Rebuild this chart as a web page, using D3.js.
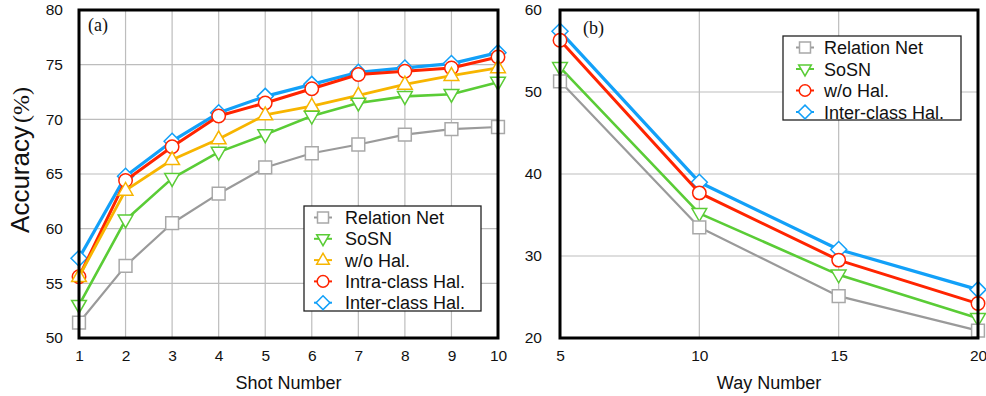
<!DOCTYPE html>
<html>
<head>
<meta charset="utf-8">
<script src="https://cdn.jsdelivr.net/npm/d3@7"></script>
<style>
  body { margin: 0; background: #fff; }
  svg { display: block; font-family: "Liberation Sans", Arial, Helvetica, sans-serif; }
</style>
</head>
<body>
<div id="chart"></div>
<script>
// panel (a): accuracy vs shot number
const shots = [1, 2, 3, 4, 5, 6, 7, 8, 9, 10];
const shotRelationNet = [51.4, 56.6, 60.5, 63.2, 65.6, 66.9, 67.7, 68.6, 69.1, 69.3];
const shotSoSN = [53.0, 60.8, 64.6, 67.0, 68.6, 70.3, 71.5, 72.1, 72.3, 73.4];
const shotWoHal = [55.6, 63.5, 66.3, 68.2, 70.4, 71.2, 72.2, 73.2, 74.0, 74.7];
const shotIntra = [55.6, 64.4, 67.5, 70.3, 71.5, 72.8, 74.1, 74.4, 74.7, 75.7];
const shotInter = [57.3, 64.8, 68.0, 70.6, 72.1, 73.2, 74.3, 74.7, 75.1, 76.1];
const shotYTicks = [50, 55, 60, 65, 70, 75, 80];

// panel (b): accuracy vs way number
const ways = [5, 10, 15, 20];
const wayRelationNet = [51.3, 33.5, 25.1, 20.9];
const waySoSN = [53.0, 35.2, 27.7, 22.4];
const wayWoHal = [56.3, 37.7, 29.5, 24.2];
const wayInter = [57.4, 39.0, 30.8, 25.9];
const wayYTicks = [20, 30, 40, 50, 60];

const styles = {
  'Relation Net': { line: '#9a9a9a', stroke: '#a8a8a8', shape: 'square', width: 2.2 },
  'SoSN': { line: '#5acc36', stroke: '#5acc36', shape: 'down', width: 2.6 },
  'w/o Hal.': { line: '#f7b500', stroke: '#f7b500', shape: 'up', width: 2.8 },
  'Intra-class Hal.': { line: '#ff2400', stroke: '#ff2400', shape: 'circle', width: 3 },
  'Inter-class Hal.': { line: '#12a0f8', stroke: '#12a0f8', shape: 'diamond', width: 3.2 },
};

const svg = d3.select('#chart').append('svg').attr('width', 986).attr('height', 396);

function markerPath(shape, s) {
  // s = half size
  if (shape === 'square') return `M${-s},${-s}H${s}V${s}H${-s}Z`;
  if (shape === 'down') return `M${-s * 1.15},${-s * 0.75}H${s * 1.15}L0,${s * 1.25}Z`;
  if (shape === 'up') return `M${-s * 1.15},${s * 0.75}H${s * 1.15}L0,${-s * 1.25}Z`;
  if (shape === 'diamond') return `M0,${-s * 1.25}L${s * 1.25},0L0,${s * 1.25}L${-s * 1.25},0Z`;
  return d3.arc()({ innerRadius: 0, outerRadius: s * 1.05, startAngle: 0, endAngle: 2 * Math.PI });
}

function drawPanel(opt) {
  const g = svg.append('g');
  const x = d3.scaleLinear().domain(opt.xDomain).range(opt.xRange);
  const y = d3.scaleLinear().domain(opt.yDomain).range([338, 10]);

  // grid
  g.append('g').selectAll('line').data(opt.xTicks).join('line')
    .attr('x1', (d) => x(d)).attr('x2', (d) => x(d))
    .attr('y1', y.range()[1]).attr('y2', y.range()[0])
    .attr('stroke', '#bdbdbd').attr('stroke-width', 1.2);
  g.append('g').selectAll('line').data(opt.yTicks).join('line')
    .attr('x1', opt.xRange[0]).attr('x2', opt.xRange[1])
    .attr('y1', (d) => y(d)).attr('y2', (d) => y(d))
    .attr('stroke', '#bdbdbd').attr('stroke-width', 1.2);

  // axes (labels only)
  const xAxis = g.append('g').attr('transform', 'translate(0,342)')
    .call(d3.axisBottom(x).tickValues(opt.xTicks).tickSize(0).tickPadding(8));
  const yAxis = g.append('g').attr('transform', `translate(${opt.xRange[0]},0)`)
    .call(d3.axisLeft(y).tickValues(opt.yTicks).tickSize(0).tickPadding(opt.yPad));
  [xAxis, yAxis].forEach((a) => {
    a.select('.domain').remove();
    a.selectAll('text').attr('font-size', 15.5).attr('fill', '#111')
      .attr('font-family', '"Liberation Sans", Arial, sans-serif');
  });

  // series, drawn back to front
  const line = d3.line().x((d) => x(d[0])).y((d) => y(d[1]));
  opt.series.slice().reverse().forEach((s) => {
    const st = styles[s.name];
    const pts = opt.xs.map((v, i) => [v, s.values[i]]);
    g.append('path').datum(pts).attr('d', line)
      .attr('fill', 'none').attr('stroke', st.line).attr('stroke-width', st.width)
      .attr('stroke-linejoin', 'round');
    g.append('g').selectAll('path').data(pts).join('path')
      .attr('transform', (d) => `translate(${x(d[0])},${y(d[1])})`)
      .attr('d', markerPath(st.shape, 6.4))
      .attr('fill', '#fff').attr('stroke', st.stroke).attr('stroke-width', 1.5);
  });

  // frame
  g.append('rect')
    .attr('x', opt.xRange[0]).attr('y', 10)
    .attr('width', opt.xRange[1] - opt.xRange[0]).attr('height', 328)
    .attr('fill', 'none').attr('stroke', '#000').attr('stroke-width', 3);

  // panel tag
  g.append('text').attr('x', opt.tag[0]).attr('y', opt.tag[1])
    .attr('font-family', '"Liberation Serif", "Times New Roman", serif')
    .attr('font-size', 18).attr('fill', '#111').text(opt.tag[2]);

  // x title
  g.append('text').attr('x', (opt.xRange[0] + opt.xRange[1]) / 2).attr('y', 389)
    .attr('text-anchor', 'middle').attr('font-size', 18).attr('fill', '#111')
    .text(opt.xTitle);

  // legend
  const lg = g.append('g');
  const L = opt.legend;
  lg.append('rect').attr('x', L.x).attr('y', L.y).attr('width', L.w)
    .attr('height', L.h).attr('fill', '#fff').attr('stroke', '#222').attr('stroke-width', 1.3);
  opt.series.forEach((s, i) => {
    const st = styles[s.name];
    const label = s.label || s.name;
    const cy = L.y + 11.5 + i * L.step;
    lg.append('line').attr('x1', L.mx - 9).attr('x2', L.mx + 9)
      .attr('y1', cy).attr('y2', cy).attr('stroke', st.line).attr('stroke-width', 2);
    lg.append('path').attr('transform', `translate(${L.mx},${cy})`)
      .attr('d', markerPath(st.shape, 5.5))
      .attr('fill', '#fff').attr('stroke', st.stroke).attr('stroke-width', 1.5);
    lg.append('text').attr('x', L.tx).attr('y', cy + 6.5)
      .attr('font-size', 18).attr('fill', '#111').text(label);
  });
}

drawPanel({
  xDomain: [1, 10], xRange: [79, 498], yDomain: [50, 80],
  xTicks: shots, yTicks: shotYTicks, xs: shots, yPad: 16,
  tag: [88, 31, '(a)'], xTitle: 'Shot Number',
  series: [
    { name: 'Relation Net', values: shotRelationNet },
    { name: 'SoSN', values: shotSoSN },
    { name: 'w/o Hal.', values: shotWoHal },
    { name: 'Intra-class Hal.', values: shotIntra },
    { name: 'Inter-class Hal.', values: shotInter },
  ],
  legend: { x: 304, y: 206, w: 177, h: 105, step: 21.3, mx: 323, tx: 345 },
});

drawPanel({
  xDomain: [5, 20], xRange: [560, 978], yDomain: [20, 60],
  xTicks: ways, yTicks: wayYTicks, xs: ways, yPad: 18,
  tag: [583, 34, '(b)'], xTitle: 'Way Number',
  series: [
    { name: 'Relation Net', values: wayRelationNet },
    { name: 'SoSN', values: waySoSN },
    { name: 'Intra-class Hal.', values: wayWoHal, label: 'w/o Hal.' },
    { name: 'Inter-class Hal.', values: wayInter },
  ],
  legend: { x: 783, y: 36, w: 178, h: 84, step: 21.5, mx: 805, tx: 824 },
});

// y title
const yt = svg.append('text').attr('transform', 'translate(29,160) rotate(-90)')
  .attr('text-anchor', 'middle').attr('fill', '#111');
yt.append('tspan').attr('font-size', 26).text('Accuracy');
yt.append('tspan').attr('font-size', 24).attr('dx', 3)
  .attr('font-family', '"Liberation Serif", "Times New Roman", serif').text('(%)');
</script>
</body>
</html>
